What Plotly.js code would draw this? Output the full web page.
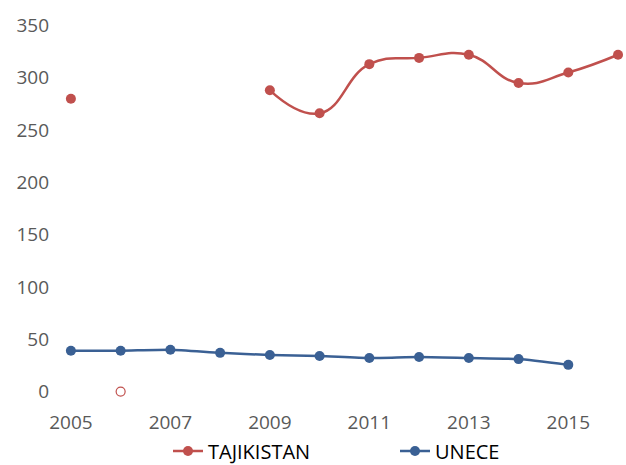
<!DOCTYPE html>
<html><head><meta charset="utf-8">
<script src="https://cdn.plot.ly/plotly-3.0.1.min.js"></script>
<style>html,body{margin:0;padding:0;background:#fff}#c{width:626px;height:465px}</style>
</head><body><div id="c"></div>
<script>
const years = [2005,2006,2007,2008,2009,2010,2011,2012,2013,2014,2015,2016];
const tajikistan = [280,null,null,null,288,266,313,319,322,295,305,322];
const tajikZeroYears = [2006];
const tajikZeroValues = [0];
const unece = [39,39,40,37,35,34,32,33,32,31,25.5,null];
const xTicks = [2005,2007,2009,2011,2013,2015];
const yTicks = [0,50,100,150,200,250,300,350];

const red = '#C0504D', blue = '#3A6094';
const data = [
  {x: years, y: tajikistan, name: 'TAJIKISTAN', type: 'scatter', mode: 'lines+markers',
   line: {color: red, width: 2.5, shape: 'spline', smoothing: 1.3}, marker: {color: red, size: 10},
   connectgaps: false, cliponaxis: false},
  {x: tajikZeroYears, y: tajikZeroValues, type: 'scatter', mode: 'markers', showlegend: false,
   marker: {symbol: 'circle-open', color: red, size: 9, line: {width: 1.2, color: red}}, cliponaxis: false},
  {x: years, y: unece, name: 'UNECE', type: 'scatter', mode: 'lines+markers',
   line: {color: blue, width: 2.5, shape: 'spline', smoothing: 0.5}, marker: {color: blue, size: 10},
   connectgaps: false, cliponaxis: false}
];
const layout = {
  width: 626, height: 465,
  margin: {l: 51, r: 0, t: 14.5, b: 62.5, autoexpand: false},
  paper_bgcolor: '#fff', plot_bgcolor: '#fff',
  font: {family: 'Open Sans, sans-serif', size: 19, color: '#595959'},
  xaxis: {range: [2004.6, 2016.16], tickvals: xTicks, ticktext: xTicks.map(String), showgrid: false,
          zeroline: false, showline: false, ticks: '', tickfont: {size: 19, color: '#595959'},
          ticklabelstandoff: 7, automargin: false},
  yaxis: {range: [-10, 360], tickvals: yTicks, showgrid: false, zeroline: false, showline: false,
          ticks: '', tickfont: {size: 19, color: '#595959'}, ticklabelstandoff: 1, automargin: false},
  showlegend: true,
  legend: {orientation: 'h', x: 168/626, xref: 'container', xanchor: 'left', y: 0.03, yref: 'container', yanchor: 'middle',
           font: {size: 20, color: '#000'}, entrywidth: 182, entrywidthmode: 'pixels'}
};
Plotly.newPlot('c', data, layout, {displayModeBar: false, staticPlot: true});
</script></body></html>
